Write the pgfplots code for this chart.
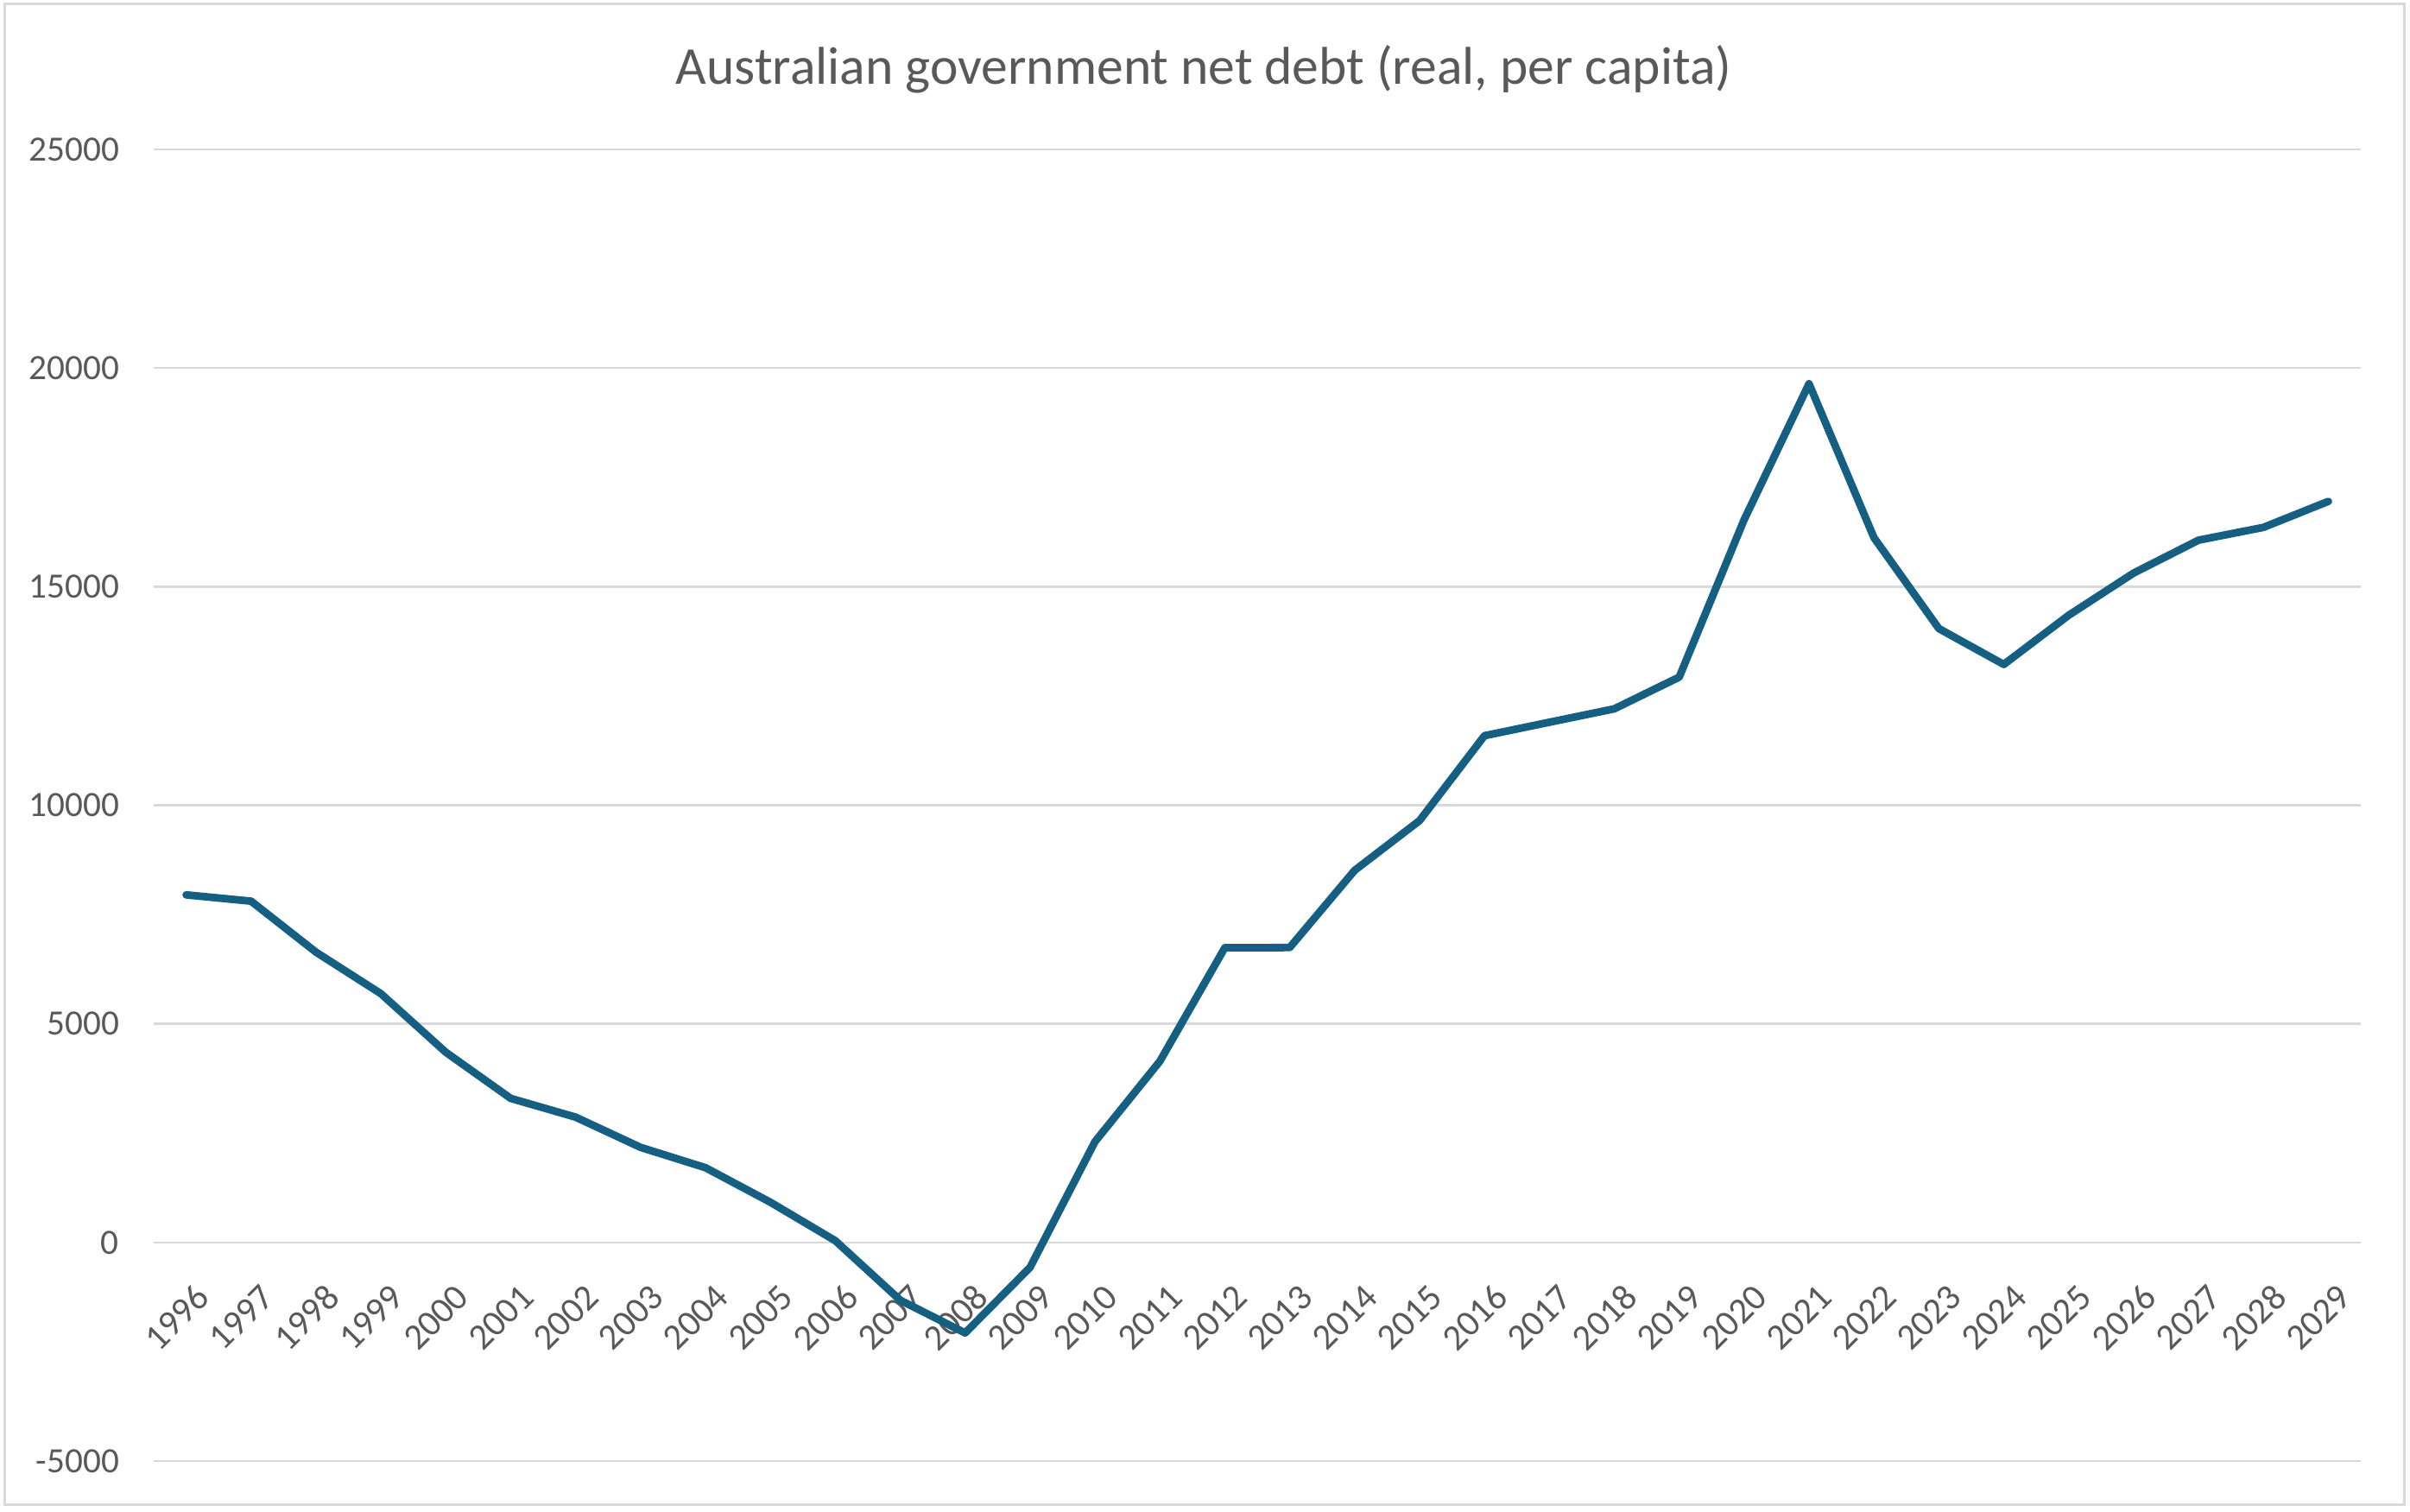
\documentclass[border=0pt]{standalone}
\usepackage{fontspec}
\setmainfont{Carlito}
\usepackage{pgfplots}
\pgfplotsset{compat=1.18}
\definecolor{linecol}{HTML}{156082}
\definecolor{txtcol}{HTML}{595959}
\definecolor{gridcol}{HTML}{D9D9D9}
\begin{document}
\begin{tikzpicture}
\path[use as bounding box] (0,0) rectangle (697.75pt,437.5pt);
\draw[gridcol, line width=0.75pt] (1.25pt,2pt) rectangle (696pt,436.25pt);
\begin{axis}[
  at={(44.5pt,14.5pt)}, anchor=south west,
  scale only axis, width=639pt, height=379.75pt,
  xmin=1995.5, xmax=2029.5, ymin=-5000, ymax=25000,
  xtick={1996,...,2029},
  ytick={-5000,0,5000,10000,15000,20000,25000},
  axis line style={draw=none},
  major tick length=0pt,
  ymajorgrids, grid style={gridcol, line width=0.65pt},
  /pgf/number format/assume math mode=true,
  /pgf/number format/1000 sep={},
  scaled y ticks=false,
  tick label style={font=\fontsize{10.3}{12}\selectfont, text=txtcol},
  yticklabel style={xshift=-6.5pt},
  xticklabel style={font=\fontsize{10.6}{12}\selectfont, xshift=7.3pt, yshift=51.7pt, rotate=45, anchor=east},
  title={Australian government net debt (real, per capita)},
  title style={font=\fontsize{15.4}{18}\selectfont, text=txtcol, at={(0.5,1)}, anchor=base, yshift=13pt, xshift=-15.5pt},
]
\addplot[linecol, line width=2.2pt, line cap=round, line join=round] coordinates {
(1996,7950) (1997,7806) (1998,6640) (1999,5690) (2000,4350) (2001,3295)
(2002,2866) (2003,2175) (2004,1710) (2005,920) (2006,40) (2007,-1320)
(2008,-2070) (2009,-570) (2010,2305) (2011,4145) (2012,6740) (2013,6745)
(2014,8510) (2015,9648) (2016,11590) (2017,11898) (2018,12205) (2019,12930)
(2020,16530) (2021,19640) (2022,16120) (2023,14040) (2024,13220) (2025,14345)
(2026,15310) (2027,16062) (2028,16355) (2029,16950)
};
\end{axis}
\end{tikzpicture}
\end{document}
